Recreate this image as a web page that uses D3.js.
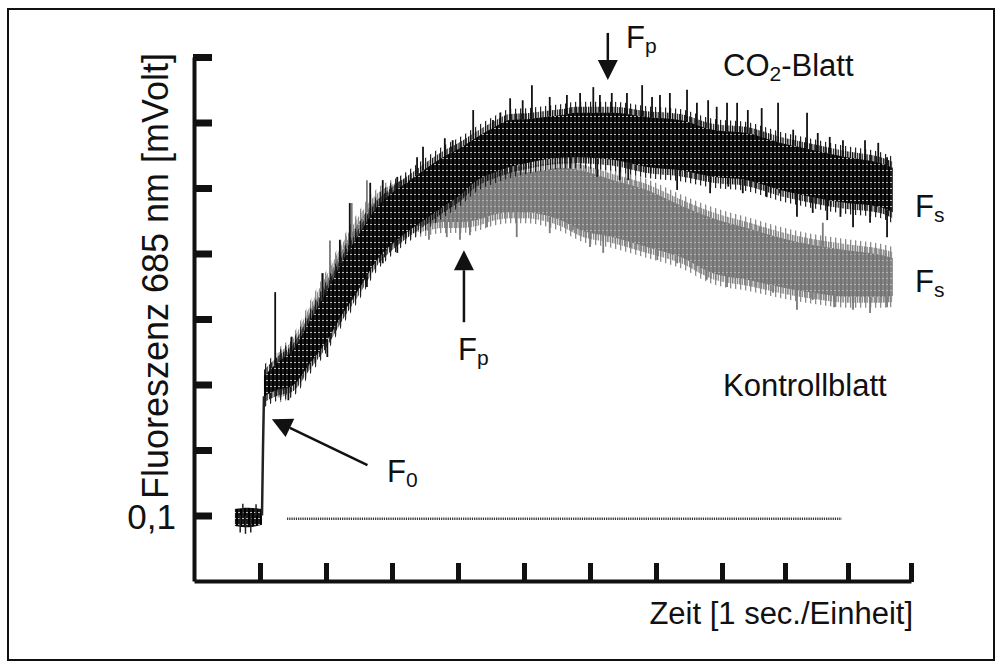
<!DOCTYPE html>
<html>
<head>
<meta charset="utf-8">
<title>Fluoreszenz</title>
<script src="https://cdn.jsdelivr.net/npm/d3@7/dist/d3.min.js"></script>
<style>
body { margin: 0; background: #fff; }
text { font-family: "Liberation Sans", Arial, sans-serif; fill: #111; }
</style>
</head>
<body>
<div id="chart"></div>
<script>

// CO2-Blatt trace (black): time [s], upper / lower edge of the dense band [mV]
var blackT  = [0.06, 0.26, 0.50, 0.76, 1.02, 1.26, 1.52, 1.77, 2.02, 2.27, 2.53, 2.77, 3.03, 3.29, 3.53,
               3.79, 4.05, 4.29, 4.55, 4.80, 5.35, 5.86, 6.36, 6.86, 7.40, 7.92, 8.44, 8.98, 9.51, 9.71];
var blackHi = [0.313, 0.333, 0.353, 0.398, 0.444, 0.490, 0.533, 0.571, 0.594, 0.612, 0.631, 0.647, 0.661, 0.678, 0.692,
               0.704, 0.705, 0.708, 0.711, 0.715, 0.715, 0.708, 0.704, 0.689, 0.684, 0.669, 0.658, 0.647, 0.638, 0.631];
var blackLo = [0.282, 0.292, 0.299, 0.333, 0.368, 0.409, 0.449, 0.490, 0.516, 0.536, 0.554, 0.571, 0.589, 0.612, 0.623,
               0.632, 0.638, 0.643, 0.646, 0.647, 0.643, 0.632, 0.627, 0.617, 0.612, 0.597, 0.586, 0.577, 0.571, 0.563];

// Kontrollblatt trace (grey)
var grayT  = [0.26, 0.50, 0.76, 1.02, 1.26, 1.52, 1.77, 2.02, 2.27, 2.53, 2.77, 3.03, 3.29, 3.53, 3.79,
              4.05, 4.29, 4.55, 4.85, 5.35, 5.86, 6.36, 6.86, 7.40, 7.92, 8.44, 8.98, 9.51, 9.71];
var grayHi = [0.338, 0.360, 0.411, 0.460, 0.508, 0.551, 0.582, 0.597, 0.605, 0.605, 0.608, 0.612, 0.624, 0.631, 0.624,
              0.624, 0.627, 0.631, 0.627, 0.612, 0.597, 0.574, 0.554, 0.539, 0.524, 0.513, 0.505, 0.498, 0.493];
var grayLo = [0.289, 0.299, 0.337, 0.376, 0.421, 0.460, 0.498, 0.521, 0.539, 0.544, 0.548, 0.548, 0.551, 0.559, 0.563,
              0.563, 0.559, 0.551, 0.536, 0.525, 0.510, 0.495, 0.470, 0.460, 0.449, 0.440, 0.434, 0.434, 0.435];

// spikes reaching out of the band: [time, tip value]
var blackSpikes = [
  [0.23, 0.441], [0.48, 0.373], [0.95, 0.470], [1.21, 0.521], [1.36, 0.577], [1.67, 0.608], [1.86, 0.612],
  [2.08, 0.617], [2.38, 0.647], [2.47, 0.663], [2.80, 0.676], [2.92, 0.673], [3.23, 0.719], [3.53, 0.704],
  [3.64, 0.715], [3.79, 0.737], [3.98, 0.734], [4.12, 0.757], [4.39, 0.739], [4.65, 0.742], [4.85, 0.745],
  [5.05, 0.754], [5.15, 0.742], [5.33, 0.745], [5.56, 0.745], [5.79, 0.757], [5.94, 0.739], [6.06, 0.742],
  [6.21, 0.745], [6.47, 0.750], [6.62, 0.730], [6.79, 0.734], [6.92, 0.724], [7.08, 0.730], [7.24, 0.730],
  [7.41, 0.719], [7.63, 0.722], [7.89, 0.730], [8.13, 0.689], [8.35, 0.715], [8.52, 0.684], [8.71, 0.678],
  [8.92, 0.673], [9.27, 0.673], [9.48, 0.669], [9.62, 0.647],
  [0.43, 0.276], [1.02, 0.342], [1.39, 0.434], [1.62, 0.449], [1.86, 0.485], [2.08, 0.501], [4.70, 0.630],
  [5.11, 0.617], [5.45, 0.612], [5.58, 0.612], [6.32, 0.597], [6.82, 0.592], [7.10, 0.602], [7.33, 0.592],
  [7.71, 0.586], [7.92, 0.592], [8.19, 0.556], [8.44, 0.562], [8.67, 0.551], [8.88, 0.556], [9.08, 0.540],
  [9.35, 0.547], [9.62, 0.525]];
var graySpikes = [
  [0.64, 0.388], [0.94, 0.470], [1.06, 0.520], [1.39, 0.577], [1.62, 0.612],
  [2.56, 0.521], [2.83, 0.525], [3.03, 0.521], [3.18, 0.528], [3.44, 0.540], [3.89, 0.525], [4.39, 0.531],
  [4.74, 0.536], [5.00, 0.510], [5.20, 0.501], [5.61, 0.510], [6.02, 0.490], [6.32, 0.485], [6.77, 0.460],
  [7.08, 0.449], [7.49, 0.460], [7.81, 0.440], [8.19, 0.414], [8.44, 0.429], [8.78, 0.418], [9.08, 0.414],
  [9.35, 0.409], [9.62, 0.418], [8.60, 0.547], [7.60, 0.540]];

// dark level before the light is switched on
var baseT  = [-0.38, -0.18, 0.03];
var baseHi = [0.110, 0.112, 0.110];
var baseLo = [0.084, 0.082, 0.086];
var baseSpikes = [[-0.30, 0.074], [-0.22, 0.072], [-0.14, 0.074], [-0.26, 0.118], [-0.06, 0.117]];
// steep rise to F0
var riseT = [0.03, 0.045, 0.06];
var riseV = [0.100, 0.200, 0.282];

// dotted zero line of the recorder
var refLineT = [0.41, 8.90];
var refLineV = 0.095;

var yTicks = [0.1, 0.2, 0.3, 0.4, 0.5, 0.6, 0.7, 0.8];
var xTicks = [0, 1, 2, 3, 4, 5, 6, 7, 8, 9, 10];

var width = 1002, height = 668;

var svg = d3.select('#chart').append('svg')
    .attr('width', width)
    .attr('height', height);

// textures of the recorder traces
var defs = svg.append('defs');
function texture(id, bg, dark, light) {
  var p = defs.append('pattern')
      .attr('id', id)
      .attr('patternUnits', 'userSpaceOnUse')
      .attr('width', 4).attr('height', 6);
  p.append('rect').attr('width', 4).attr('height', 6).attr('fill', bg);
  p.append('rect').attr('width', 2).attr('height', 6).attr('fill', dark);
  p.append('rect').attr('x', 2).attr('y', 2).attr('width', 2).attr('height', 1).attr('fill', light);
}
texture('coreBlack', '#1a1a1a', '#000', '#bbb');
texture('coreGray', '#858585', '#747474', '#b4b4b4');
function hairs(id, col, step, w) {
  var p = defs.append('pattern')
      .attr('id', id)
      .attr('patternUnits', 'userSpaceOnUse')
      .attr('width', step).attr('height', 7);
  p.append('rect').attr('width', w).attr('height', 7).attr('fill', col);
}
hairs('fringeBlack', '#111', 2.4, 1.3);
hairs('fringeBlack2', '#222', 5, 1.2);
hairs('fringeGray', '#808080', 2.4, 1.4);
hairs('fringeGray2', '#8a8a8a', 5, 1.3);

// frame
svg.append('rect')
    .attr('x', 8).attr('y', 9)
    .attr('width', 986).attr('height', 651)
    .attr('fill', 'none')
    .attr('stroke', '#111')
    .attr('stroke-width', 2);

// the recorder's time axis is a little compressed after 7 s
var x = d3.scaleLinear().domain([-1, 0, 7, 10]).range([194, 260, 722, 911]);
var y = d3.scaleLinear().domain([0, 0.8]).range([581, 57]);

// axes
var yAxis = svg.append('g')
    .attr('transform', 'translate(194,0)')
    .call(d3.axisLeft(y).tickValues(yTicks).tickSizeInner(-18).tickSizeOuter(0).tickPadding(18)
      .tickFormat(function(d) { return d === 0.1 ? '0,1' : ''; }));
yAxis.select('.domain').attr('stroke', '#111').attr('stroke-width', 4);
yAxis.selectAll('.tick line').attr('stroke', '#111').attr('stroke-width', 7).attr('x1', -1);
yAxis.selectAll('.tick text')
    .attr('font-size', 35)
    .attr('dy', '0.36em')
    .attr('fill', '#111');

var xAxis = svg.append('g')
    .attr('transform', 'translate(0,581)')
    .call(d3.axisBottom(x).tickValues(xTicks).tickSizeInner(-18).tickSizeOuter(0).tickFormat(''));
xAxis.select('.domain').attr('stroke', '#111').attr('stroke-width', 4);
xAxis.selectAll('.tick line').attr('stroke', '#111').attr('stroke-width', 5).attr('y1', 1);

// traces
function zip(t, hi, lo) {
  return t.map(function(d, i) { return {t: d, hi: hi[i], lo: lo[i]}; });
}
function bandArea(pad) {
  return d3.area()
      .x(function(d) { return x(d.t); })
      .y0(function(d) { return y(d.lo) + pad; })
      .y1(function(d) { return y(d.hi) - pad; })
      .curve(d3.curveMonotoneX);
}

function edgeAt(t, times, hi, lo, tip) {
  var i = Math.max(1, Math.min(times.length - 1, d3.bisectLeft(times, t)));
  var f = Math.max(0, Math.min(1, (t - times[i - 1]) / (times[i] - times[i - 1])));
  var h = hi[i - 1] + (hi[i] - hi[i - 1]) * f,
      l = lo[i - 1] + (lo[i] - lo[i - 1]) * f;
  return tip > (h + l) / 2 ? h : l;
}

function drawTrace(t, hi, lo, spikes, name, spikeCol) {
  var data = zip(t, hi, lo);
  var g = svg.append('g');
  g.append('path').datum(data).attr('d', bandArea(11)).attr('fill', 'url(#fringe' + name + '2)');
  g.append('path').datum(data).attr('d', bandArea(6)).attr('fill', 'url(#fringe' + name + ')');
  g.append('path').datum(data).attr('d', bandArea(0)).attr('fill', 'url(#core' + name + ')');
  g.selectAll('line.spike').data(spikes).enter().append('line')
      .attr('class', 'spike')
      .attr('x1', function(d) { return x(d[0]); })
      .attr('x2', function(d) { return x(d[0]); })
      .attr('y1', function(d) { return y(d[1]); })
      .attr('y2', function(d) { return y(edgeAt(d[0], t, hi, lo, d[1])); })
      .attr('stroke', spikeCol)
      .attr('stroke-width', 1.8);
}

drawTrace(grayT, grayHi, grayLo, graySpikes, 'Gray', '#7a7a7a');
drawTrace(blackT, blackHi, blackLo, blackSpikes, 'Black', '#111');

// dark level and rise
var baseData = zip(baseT, baseHi, baseLo);
svg.append('path').datum(baseData)
    .attr('d', bandArea(0))
    .attr('fill', 'url(#coreBlack)');
svg.selectAll('line.bspike').data(baseSpikes).enter().append('line')
    .attr('class', 'bspike')
    .attr('x1', function(d) { return x(d[0]); })
    .attr('x2', function(d) { return x(d[0]); })
    .attr('y1', function(d) { return y(d[1]); })
    .attr('y2', y(0.1))
    .attr('stroke', '#222')
    .attr('stroke-width', 1.5);
svg.append('path')
    .datum(riseT.map(function(d, i) { return [d, riseV[i]]; }))
    .attr('d', d3.line().x(function(d) { return x(d[0]); }).y(function(d) { return y(d[1]); }))
    .attr('fill', 'none')
    .attr('stroke', '#222')
    .attr('stroke-width', 2.5);

svg.append('line')
    .attr('x1', x(refLineT[0])).attr('x2', x(refLineT[1]))
    .attr('y1', y(refLineV)).attr('y2', y(refLineV))
    .attr('stroke', '#333')
    .attr('stroke-width', 2.5)
    .attr('stroke-dasharray', '1.2,1');

// arrows
function arrow(tipX, tipY, dx, dy, len) {
  var n = Math.sqrt(dx * dx + dy * dy), ux = dx / n, uy = dy / n;
  var head = 20, half = 10;
  var bx = tipX - ux * head, by = tipY - uy * head;
  svg.append('line')
      .attr('x1', tipX - ux * len).attr('y1', tipY - uy * len)
      .attr('x2', bx).attr('y2', by)
      .attr('stroke', '#111').attr('stroke-width', 2.5);
  svg.append('path')
      .attr('d', 'M' + tipX + ',' + tipY +
        'L' + (bx - uy * half) + ',' + (by + ux * half) +
        'L' + (bx + uy * half) + ',' + (by - ux * half) + 'Z')
      .attr('fill', '#111');
}
arrow(x(0.18), y(0.247), -96, -46, 106);
arrow(x(3.09), y(0.505), 0, -1, 72);
arrow(x(5.27), y(0.765), 0, 1, 47);

// labels
function label(px, py, main, sub, rest) {
  var t = svg.append('text').attr('x', px).attr('y', py).attr('font-size', 31);
  t.append('tspan').text(main);
  if (sub) t.append('tspan').attr('font-size', 21).attr('dy', 5).text(sub);
  if (rest) t.append('tspan').attr('dy', -5).text(rest);
  return t;
}
label(387, 482, 'F', '0');
label(458, 360, 'F', 'p');
label(626, 48, 'F', 'p');
label(915, 217, 'F', 's');
label(915, 292, 'F', 's');
label(723, 76, 'CO', '2', '-Blatt');
label(723, 396, 'Kontrollblatt');

svg.append('text')
    .attr('x', 913).attr('y', 624)
    .attr('text-anchor', 'end')
    .attr('font-size', 31)
    .text('Zeit [1 sec./Einheit]');

svg.append('text')
    .attr('transform', 'translate(168,276) rotate(-90)')
    .attr('text-anchor', 'middle')
    .attr('font-size', 36)
    .text('Fluoreszenz 685 nm [mVolt]');

</script>
</body>
</html>
